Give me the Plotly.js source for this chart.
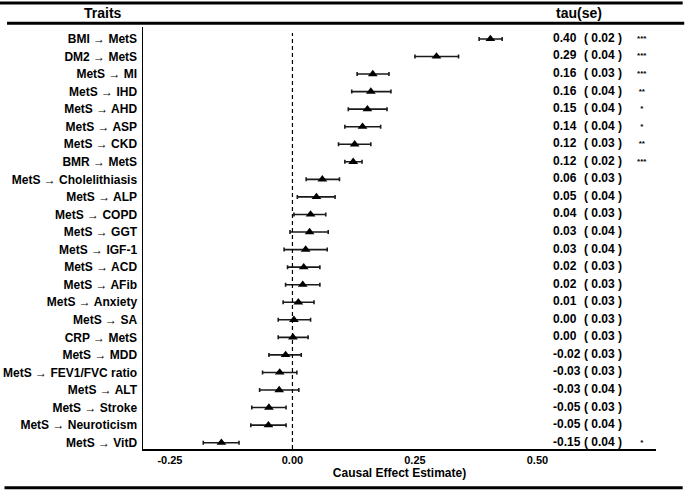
<!DOCTYPE html>
<html>
<head>
<meta charset="utf-8">
<script src="https://cdn.plot.ly/plotly-3.0.1.min.js"></script>
<style>html,body{margin:0;padding:0;background:#fff;}#chart{width:685px;height:494px;}</style>
</head>
<body>
<div id="chart"></div>
<script>
const traits = ["BMI → MetS","DM2 → MetS","MetS → MI","MetS → IHD","MetS → AHD","MetS → ASP","MetS → CKD","BMR → MetS","MetS → Cholelithiasis","MetS → ALP","MetS → COPD","MetS → GGT","MetS → IGF-1","MetS → ACD","MetS → AFib","MetS → Anxiety","MetS → SA","CRP → MetS","MetS → MDD","MetS → FEV1/FVC ratio","MetS → ALT","MetS → Stroke","MetS → Neuroticism","MetS → VitD"];
const estimate = [0.404,0.294,0.164,0.160,0.153,0.143,0.127,0.124,0.061,0.049,0.037,0.035,0.027,0.023,0.021,0.012,0.003,0.001,-0.014,-0.026,-0.027,-0.048,-0.049,-0.145];
const ciLower = [0.381,0.250,0.132,0.121,0.114,0.107,0.094,0.107,0.028,0.010,0.003,-0.005,-0.017,-0.010,-0.014,-0.019,-0.029,-0.029,-0.048,-0.061,-0.067,-0.083,-0.085,-0.182];
const ciUpper = [0.428,0.339,0.197,0.201,0.193,0.180,0.160,0.142,0.096,0.087,0.068,0.073,0.071,0.056,0.056,0.044,0.037,0.032,0.018,0.009,0.013,-0.013,-0.013,-0.109];
const tauLabels = ["0.40","0.29","0.16","0.16","0.15","0.14","0.12","0.12","0.06","0.05","0.04","0.03","0.03","0.02","0.02","0.01","0.00","0.00","-0.02","-0.03","-0.03","-0.05","-0.05","-0.15"];
const seLabels = ["0.02","0.04","0.03","0.04","0.04","0.04","0.03","0.02","0.03","0.04","0.03","0.04","0.04","0.03","0.03","0.03","0.03","0.03","0.03","0.03","0.04","0.03","0.04","0.04"];
const stars = ["***","***","***","**","*","*","**","***","","","","","","","","","","","","","","","","*"];
const xTickVals = [-0.25, 0, 0.25, 0.5];
const xTickText = ["-0.25","0.00","0.25","0.50"];

const FONT = "Liberation Sans, Arial, sans-serif";
const n = traits.length;

const traces = [
  {
    type: "scatter", mode: "markers",
    x: estimate, y: traits,
    marker: {symbol: "triangle-up", size: 8.5, color: "#000"},
    error_x: {
      type: "data", symmetric: false,
      array: estimate.map((e, i) => ciUpper[i] - e),
      arrayminus: estimate.map((e, i) => e - ciLower[i]),
      color: "#1a1a1a", thickness: 1.6, width: 2
    },
    hoverinfo: "skip", showlegend: false
  },
  {
    type: "scatter", mode: "text",
    x: Array(n).fill(0.532), y: traits, text: tauLabels,
    textposition: "middle right",
    textfont: {family: FONT, size: 12, weight: "bold", color: "#000"},
    hoverinfo: "skip", showlegend: false, cliponaxis: false
  },
  {
    type: "scatter", mode: "text",
    x: Array(n).fill(0.595), y: traits, text: seLabels.map(s => "( " + s + " )"),
    textposition: "middle right",
    textfont: {family: FONT, size: 12, weight: "bold", color: "#000"},
    hoverinfo: "skip", showlegend: false, cliponaxis: false
  },
  {
    type: "scatter", mode: "text",
    x: Array(n).fill(0.713), y: traits, text: stars,
    textposition: "middle center",
    textfont: {family: FONT, size: 8, weight: "bold", color: "#000"},
    hoverinfo: "skip", showlegend: false, cliponaxis: false
  }
];

const layout = {
  width: 685, height: 494,
  margin: {l: 143, r: 29, t: 27, b: 45, pad: 0},
  paper_bgcolor: "#fff", plot_bgcolor: "#fff",
  font: {family: FONT, color: "#000"},
  xaxis: {
    range: [-0.305, 0.742],
    tickvals: xTickVals, ticktext: xTickText,
    tickfont: {family: FONT, size: 11, weight: "bold", color: "#000"},
    showgrid: false, zeroline: false,
    showline: true, linecolor: "#000", linewidth: 1.5,
    ticks: "",
    title: {text: "Causal Effect Estimate)", font: {family: FONT, size: 12, weight: "bold", color: "#000"}, standoff: 4}
  },
  yaxis: {
    type: "category",
    range: [23.36, -0.68],
    tickfont: {family: FONT, size: 12, weight: "bold", color: "#000"},
    showgrid: false, zeroline: false,
    showline: true, linecolor: "#000", linewidth: 1.5,
    ticks: "", ticklabelstandoff: 2
  },
  shapes: [
    {type: "line", xref: "x", yref: "paper", x0: 0, x1: 0, y0: 0, y1: 0.986,
     line: {color: "#000", width: 1.2, dash: "4px,3px"}},
    {type: "line", xref: "paper", yref: "paper", x0: -0.279, x1: 1.052, y0: 1.057, y1: 1.057,
     line: {color: "#000", width: 3}},
    {type: "line", xref: "paper", yref: "paper", x0: -0.265, x1: 1.055, y0: 1.009, y1: 1.009,
     line: {color: "#000", width: 3}},
    {type: "line", xref: "paper", yref: "paper", x0: -0.27, x1: 1.052, y0: -0.092, y1: -0.092,
     line: {color: "#000", width: 3}}
  ],
  annotations: [
    {text: "Traits", xref: "paper", yref: "paper", x: (103 - 143) / 513, y: 1.033,
     xanchor: "center", yanchor: "middle", showarrow: false,
     font: {family: FONT, size: 14, weight: "bold", color: "#000"}},
    {text: "tau(se)", xref: "paper", yref: "paper", x: (579 - 143) / 513, y: 1.033,
     xanchor: "center", yanchor: "middle", showarrow: false,
     font: {family: FONT, size: 14, weight: "bold", color: "#000"}}
  ]
};

Plotly.newPlot("chart", traces, layout, {displayModeBar: false, staticPlot: true});
</script>
</body>
</html>
